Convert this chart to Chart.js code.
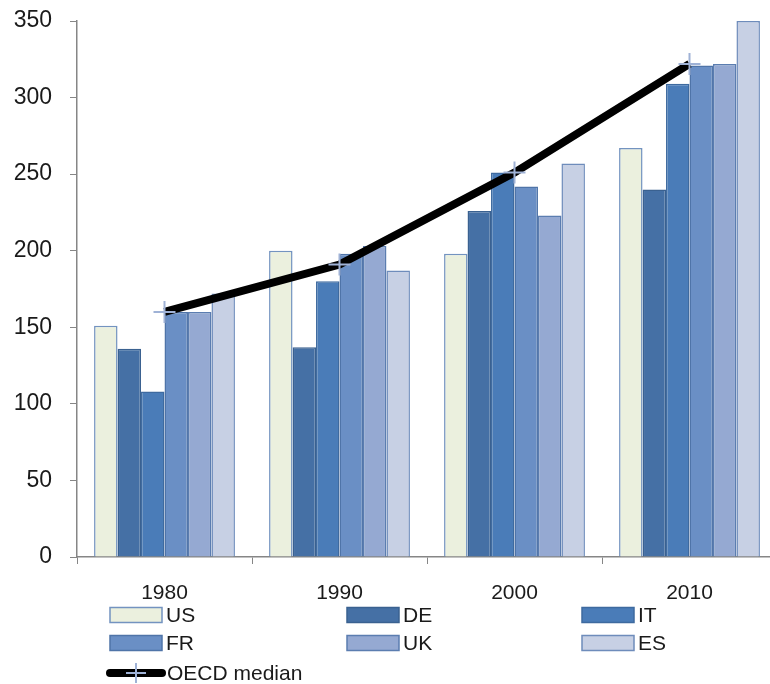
<!DOCTYPE html>
<html>
<head>
<meta charset="utf-8">
<script src="https://cdn.jsdelivr.net/npm/chart.js@4/dist/chart.umd.min.js"></script>
<style>
html, body { margin: 0; padding: 0; overflow: hidden; background: #fff; }
#wrap { width: 790px; height: 684px; }
#chart { width: 790px; height: 684px; }
</style>
</head>
<body>
<div id="wrap"><canvas id="chart" width="790" height="684"></canvas></div>
<script>
// data
const years = ['1980', '1990', '2000', '2010'];
const us = [151, 200, 198, 267];
const de = [136, 137, 226, 240];
const it = [108, 180, 251, 309];
const fr = [160, 198, 242, 321];
const uk = [160, 203, 223, 322];
const es = [172, 187, 257, 350];
const oecdMedian = [160, 191, 251, 322];
const yTicks = [0, 50, 100, 150, 200, 250, 300, 350];

const textColor = '#1a1a1a';
const axisColor = '#868686';

function bar(label, data, fill, border) {
    return {
        type: 'bar', label: label, data: data,
        backgroundColor: fill, borderColor: border, borderWidth: 1.5,
        barPercentage: 1.0, categoryPercentage: 0.805, order: 1
    };
}

// legend drawn below the axis, 3 columns like the original
const bottomLegend = {
    id: 'bottomLegend',
    afterDraw(chart) {
        const ctx = chart.ctx;
        const cols = [110, 347, 582];
        const rows = [615, 643];
        ctx.save();
        ctx.font = '21px "Liberation Sans"';
        ctx.textBaseline = 'middle';
        chart.data.datasets.forEach((ds, i) => {
            if (ds.type !== 'bar') return;
            const x = cols[i % 3], y = rows[Math.floor(i / 3)];
            ctx.fillStyle = ds.backgroundColor;
            ctx.fillRect(x, y - 7.5, 52, 15);
            ctx.strokeStyle = ds.borderColor;
            ctx.lineWidth = 1.5;
            ctx.strokeRect(x, y - 7.5, 52, 15);
            ctx.fillStyle = textColor;
            ctx.fillText(ds.label, x + 56, y + 1);
        });
        // line entry
        const line = chart.data.datasets.find(d => d.type === 'line');
        const ly = 673;
        ctx.strokeStyle = line.borderColor;
        ctx.lineWidth = 8;
        ctx.lineCap = 'round';
        ctx.beginPath();
        ctx.moveTo(110, ly);
        ctx.lineTo(162, ly);
        ctx.stroke();
        ctx.strokeStyle = line.pointBorderColor;
        ctx.lineWidth = 2;
        ctx.lineCap = 'butt';
        ctx.beginPath();
        ctx.moveTo(126, ly); ctx.lineTo(146, ly);
        ctx.moveTo(136, ly - 10); ctx.lineTo(136, ly + 10);
        ctx.stroke();
        ctx.fillStyle = textColor;
        ctx.fillText(line.label, 167, ly + 1);
        ctx.restore();
    }
};

const ctx = document.getElementById('chart').getContext('2d');
new Chart(ctx, {
    data: {
        labels: years,
        datasets: [
            bar('US', us, '#EBF0DE', '#7393C0'),
            bar('DE', de, '#4570A5', '#3A6190'),
            bar('IT', it, '#4A7CB8', '#3E6A9F'),
            bar('FR', fr, '#6A8FC5', '#4F74A8'),
            bar('UK', uk, '#95A9D2', '#5B7DB0'),
            bar('ES', es, '#C7D0E4', '#6E8CBB'),
            {
                type: 'line', label: 'OECD median', data: oecdMedian,
                borderColor: '#000', borderWidth: 8, tension: 0,
                pointStyle: 'cross', pointRadius: 11, pointHoverRadius: 11,
                pointBorderColor: '#9FB2D6', pointBorderWidth: 2,
                pointBackgroundColor: '#9FB2D6', order: 0
            }
        ]
    },
    options: {
        responsive: false,
        animation: false,
        layout: { padding: { left: 0, right: 12, top: 21, bottom: 77 } },
        plugins: {
            legend: { display: false },
            tooltip: { enabled: false }
        },
        scales: {
            x: {
                offset: true,
                grid: { drawOnChartArea: false, drawTicks: true, tickLength: 7, color: axisColor, offset: true },
                border: { color: axisColor, width: 1.5 },
                ticks: { color: textColor, font: { family: 'Liberation Sans', size: 21 }, padding: 17 },
                afterFit(scale) { scale.height = 50; }
            },
            y: {
                min: 0, max: 350,
                afterBuildTicks(scale) { scale.ticks = yTicks.map(v => ({ value: v })); },
                grid: { drawOnChartArea: false, drawTicks: true, tickLength: 7, color: axisColor },
                border: { color: axisColor, width: 1.5 },
                ticks: { color: textColor, font: { family: 'Liberation Sans', size: 23 }, padding: 18 },
                afterFit(scale) {
                    scale.width = 77;
                    scale.paddingTop = 0;
                    scale.paddingBottom = 0;
                }
            }
        }
    },
    plugins: [bottomLegend]
});
</script>
</body>
</html>
